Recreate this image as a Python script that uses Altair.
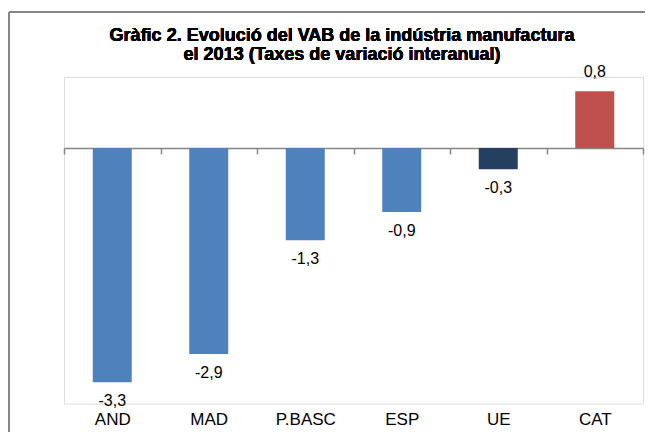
import altair as alt
import pandas as pd

categories = ["AND", "MAD", "P.BASC", "ESP", "UE", "CAT"]
values = [-3.3, -2.9, -1.3, -0.9, -0.3, 0.8]
bar_colors = ["#4F81BD", "#4F81BD", "#4F81BD", "#4F81BD", "#243F60", "#C0504D"]
title_lines = ["Gràfic 2. Evolució del VAB de la indústria manufactura",
               "el 2013 (Taxes de variació interanual)"]

df = pd.DataFrame({
    "cat": categories,
    "val": values,
    "lab": [f"{v:.1f}".replace(".", ",") for v in values],
})

W, H = 579, 326.6
YMIN, YMAX = -3.6, 1.0
zero_y = H * YMAX / (YMAX - YMIN)
FONT = "Liberation Sans"
GRAY = "#868686"
PAD = {"left": 56, "top": 69, "right": 2, "bottom": 28.4}

x_enc = alt.X("cat:N", sort=categories,
              scale=alt.Scale(paddingInner=0, paddingOuter=0),
              axis=alt.Axis(title=None, orient="bottom", offset=-(H - zero_y),
                            domainColor=GRAY, domainWidth=1.5, tickColor=GRAY,
                            tickWidth=1.5, tickSize=6, tickBand="extent",
                            labelPadding=257, labelFontSize=17, labelFont=FONT,
                            labelColor="black", labelAngle=0, labelBaseline="top",
                            grid=False))
y_enc = alt.Y("val:Q", scale=alt.Scale(domain=[YMIN, YMAX], nice=False, zero=False),
              axis=None)

base = alt.Chart(df)

bars = base.mark_bar(width=alt.RelativeBandSize(0.404)).encode(
    x=x_enc, y=y_enc, y2=alt.datum(0),
    color=alt.Color("cat:N", scale=alt.Scale(domain=categories, range=bar_colors),
                    legend=None),
)

neg_text = base.transform_filter("datum.val < 0").mark_text(
    font=FONT, fontSize=16, color="black", baseline="middle", dy=19
).encode(x=alt.X("cat:N", sort=categories), y="val:Q", text="lab:N")

pos_text = base.transform_filter("datum.val >= 0").mark_text(
    font=FONT, fontSize=16, color="black", baseline="middle", dy=-19
).encode(x=alt.X("cat:N", sort=categories), y="val:Q", text="lab:N")

title1 = base.mark_text(text=title_lines[0], font=FONT, fontSize=18, fontWeight="bold",
                        color="black", align="center", baseline="top").encode(
    x=alt.value(278), y=alt.value(-50))
title2 = base.mark_text(text=title_lines[1], font=FONT, fontSize=18, fontWeight="bold",
                        color="black", align="center", baseline="top").encode(
    x=alt.value(278), y=alt.value(-30.6))

frame_left = base.mark_rule(color=GRAY, strokeWidth=2).encode(
    x=alt.value(-55), y=alt.value(-65), y2=alt.value(H + 100))
frame_top = base.mark_rule(color=GRAY, strokeWidth=2).encode(
    x=alt.value(-55), x2=alt.value(W + 20), y=alt.value(-65))

chart = alt.layer(bars, neg_text, pos_text, title1, title2, frame_left, frame_top).properties(
    width=W, height=H,
    autosize=alt.AutoSizeParams(type="none"),
    padding=PAD,
).configure_view(strokeWidth=0).configure(background="white")

chart.save("out.html", embed_options={"renderer": "svg", "actions": False})
